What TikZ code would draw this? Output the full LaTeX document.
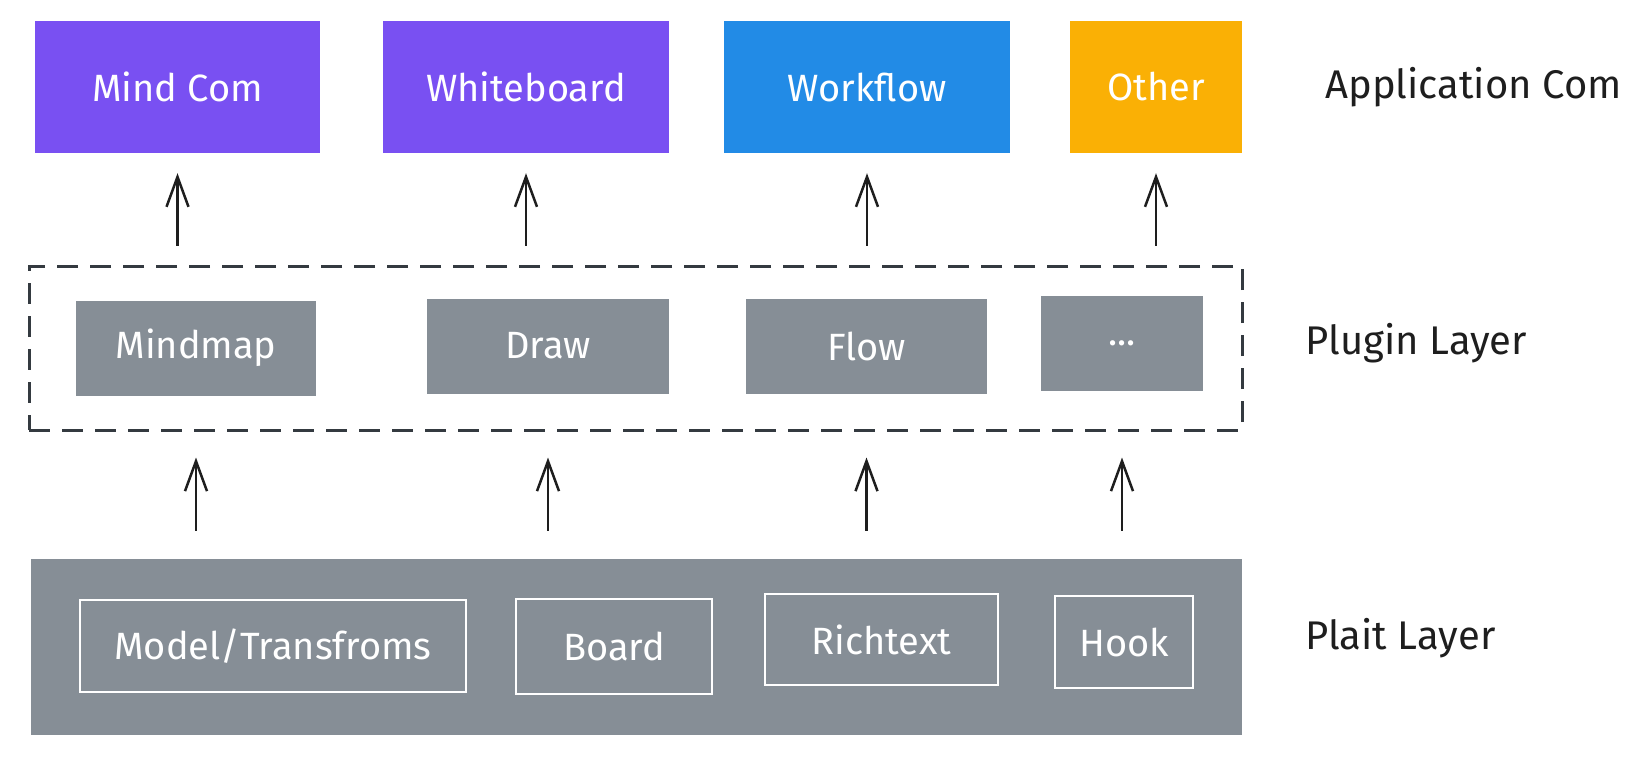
\documentclass[tikz,border=0pt]{standalone}
\usepackage{fontspec}
\setmainfont{Fira Sans}
\usetikzlibrary{positioning,arrows.meta}
\definecolor{appviolet}{HTML}{7950F2}
\definecolor{appblue}{HTML}{228BE6}
\definecolor{appyellow}{HTML}{FAB005}
\definecolor{layergray}{HTML}{868E96}
\definecolor{inkc}{HTML}{1E1E1E}
\definecolor{dashc}{HTML}{343A40}

\begin{document}
\begin{tikzpicture}[x=1pt,y=-1pt,
  box/.style={inner sep=0pt,text=white,font=\fontsize{38}{44}\selectfont},
  appbox/.style={box,minimum height=132},
  plugbox/.style={box,fill=layergray,minimum height=95},
  coreitem/.style={box,draw=white,line width=2.5pt,minimum height=92},
  layertext/.style={anchor=west,text=inkc,font=\fontsize{40}{46}\selectfont},
  up/.style={draw=inkc,line width=2.5pt,-{Straight Barb[length=30pt,width=22pt]}}]
  \useasboundingbox (0,0) rectangle (1646,758);
  % application components
  \node[appbox,fill=appviolet,minimum width=285] (mind) at (177.5,87) {Mind Com};
  \node[appbox,fill=appviolet,minimum width=286] (white) at (526,87) {Whiteboard};
  \node[appbox,fill=appblue,minimum width=286] (work) at (867,87) {Workflow};
  \node[appbox,fill=appyellow,minimum width=172] (other) at (1156,87) {Other};
  \node[layertext] (applbl) at (1322,87) {Application Com};
  % plugin layer
  \node[draw=dashc,line width=3pt,dash pattern=on 21pt off 12pt,
        minimum width=1213,minimum height=164] (plugin) at (635.5,348) {};
  \node[plugbox,minimum width=240] (mindmap) at (196,348) {Mindmap};
  \node[plugbox,minimum width=242] (drawp) at (548,346) {Draw};
  \node[plugbox,minimum width=241] (flow) at (866.5,346) {Flow};
  \node[plugbox,minimum width=162] (more) at (1122,343) {...};
  \node[layertext] (pluglbl) at (1302,343) {Plugin Layer};
  % plait layer
  \node[fill=layergray,minimum width=1211,minimum height=176] (plait) at (636.5,647) {};
  \node[coreitem,minimum width=386] (model) at (273,646) {Model/Transfroms};
  \node[coreitem,minimum width=196,minimum height=95] (board) at (614,646.5) {Board};
  \node[coreitem,minimum width=233,minimum height=91] (rich) at (881.5,639.5) {Richtext};
  \node[coreitem,minimum width=138] (hook) at (1124,642) {Hook};
  \node[layertext] (plaitlbl) at (1302,638) {Plait Layer};
  % arrows
  \foreach \n in {mind,white,work,other}
    \draw[up,shorten <=19pt,shorten >=20pt] (plugin.north -| \n.south) -- (\n.south);
  \foreach \n in {mindmap,drawp,flow,more}
    \draw[up,shorten <=28pt,shorten >=26pt] (plait.north -| \n.south) -- (plugin.south -| \n.south);
\end{tikzpicture}
\end{document}
